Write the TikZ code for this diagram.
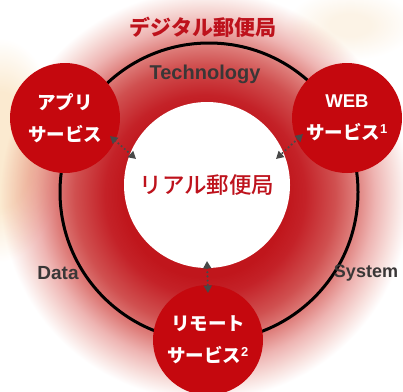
\documentclass[tikz,border=0pt]{standalone}
\usepackage{fontspec}
\setmainfont{Liberation Sans}
\newfontfamily\jp{Noto Sans CJK JP}
\newfontfamily\jpm{Noto Sans CJK JP}[UprightFont=* Medium]
\usetikzlibrary{arrows.meta,calc}
\definecolor{gA}{RGB}{192,22,28}
\definecolor{gB}{RGB}{196,34,40}
\definecolor{gC}{RGB}{208,80,80}
\definecolor{gD}{RGB}{222,125,122}
\definecolor{gE}{RGB}{238,180,178}
\definecolor{gF}{RGB}{248,225,222}
\definecolor{dred}{RGB}{197,8,14}
\definecolor{tred}{RGB}{190,18,28}
\definecolor{tgray}{RGB}{58,55,55}
\definecolor{agray}{RGB}{72,72,72}
\definecolor{beige}{RGB}{251,234,208}
\definecolor{beigel}{RGB}{252,243,230}
\pgfdeclareradialshading{glow}{\pgfpoint{0bp}{0bp}}{color(0bp)=(gA);color(10bp)=(gA);color(12.2bp)=(gB);color(15.9bp)=(gC);color(18.3bp)=(gD);color(20.7bp)=(gE);color(23.2bp)=(gF);color(25bp)=(white);color(50bp)=(white)}
\pgfdeclareradialshading{beigeglow}{\pgfpoint{0bp}{0bp}}{color(0bp)=(beige);color(13bp)=(beige);color(25bp)=(white);color(50bp)=(white)}
\pgfdeclareradialshading{beigesoft}{\pgfpoint{0bp}{0bp}}{color(0bp)=(beigel);color(8bp)=(beigel);color(25bp)=(white);color(50bp)=(white)}
\tikzset{
  redc/.style={circle, fill=dred, minimum size=110pt, inner sep=0pt, text=white, align=center,
    font=\jp\bfseries\fontsize{18.5}{32}\selectfont},
  conn/.style={draw=agray, line width=2.4pt, line cap=round, dash pattern=on 0pt off 4.2pt,
    {Triangle[length=7.5pt,width=8pt]}-{Triangle[length=7.5pt,width=8pt]}},
  lbl/.style={text=tgray, font=\bfseries\fontsize{19}{22}\selectfont},
}
\begin{document}
\begin{tikzpicture}[x=1pt,y=-1pt]
\useasboundingbox (0,0) rectangle (403,391);
\fill[white] (0,0) rectangle (403,391);
\shade[shading=glow] (205,195) circle (205);
\shade[shading=beigeglow, blend mode=multiply] (0,150) ellipse (62 and 112);
\shade[shading=beigesoft, blend mode=multiply] (350,25) ellipse (65 and 35);
\draw[line width=3pt] (209,192) circle (149);
\node[circle, fill=white, minimum size=166pt, inner sep=0pt, text=tred,
  font=\jpm\fontsize{22.5}{26}\selectfont] (real) at (207,185) {リアル郵便局};
\node[redc] (app) at (65,118) {アプリ\\サービス};
\node[redc] (web) at (347,118) {{\normalfont\bfseries WEB}\\サービス\textsuperscript{\normalfont\bfseries 1}};
\node[redc] (remote) at (208,340) {リモート\\サービス\textsuperscript{\normalfont\bfseries 2}};
\node[text=tred, font=\jp\bfseries\fontsize{21}{24}\selectfont] (title) at (203,27) {デジタル郵便局};
\node[lbl, font=\bfseries\fontsize{20}{22}\selectfont] (tech) at (205,74) {Technology};
\node[lbl] (data) at (58,273) {Data};
\node[lbl, font=\bfseries\fontsize{18}{22}\selectfont] (sys) at (366,273) {System};
\coordinate (a1) at ($(app.center)+(45,18)$);
\coordinate (a2) at ($(real.center)+(-71,-26)$);
\coordinate (b1) at ($(web.center)+(-44,16)$);
\coordinate (b2) at ($(real.center)+(69,-26)$);
\coordinate (c1) at ($(real.center)+(0,76)$);
\coordinate (c2) at ($(remote.center)+(0,-47)$);
\draw[conn] (a1) -- (a2);
\draw[conn] (b1) -- (b2);
\draw[conn] (c1) -- (c2);
\end{tikzpicture}
\end{document}
